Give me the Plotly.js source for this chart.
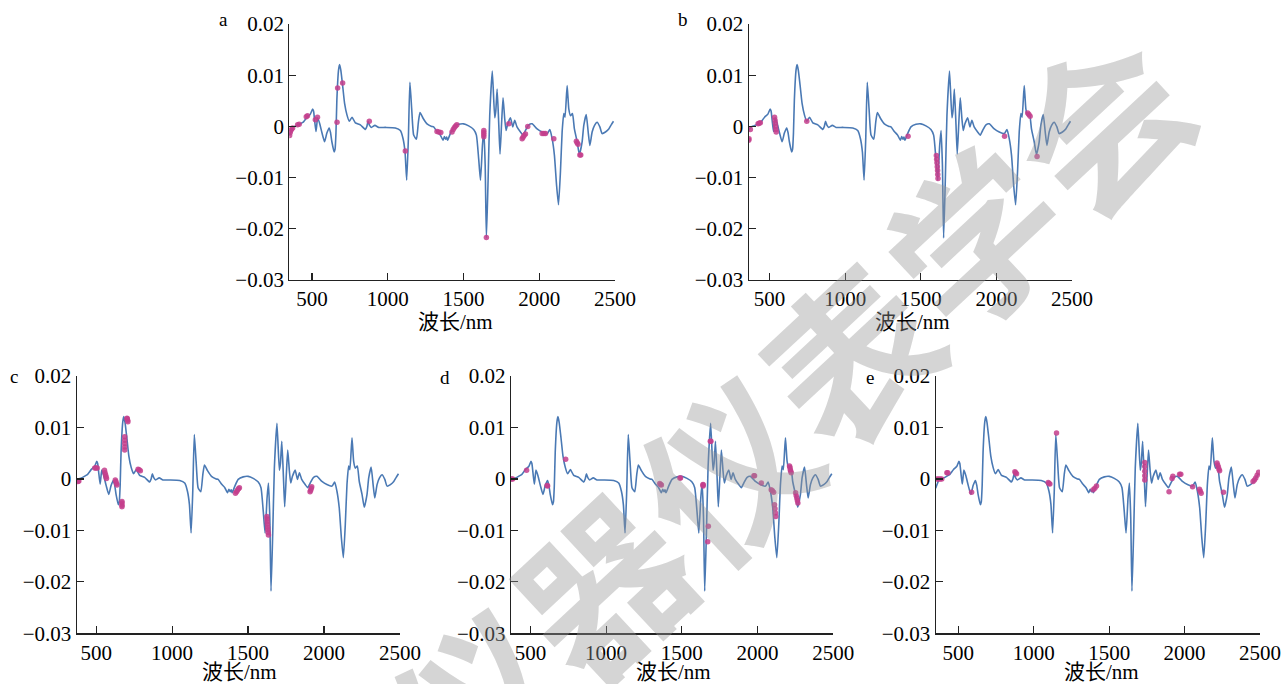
<!DOCTYPE html>
<html>
<head>
<meta charset="utf-8">
<script src="https://cdn.plot.ly/plotly-3.0.1.min.js"></script>
<style>
html,body{margin:0;padding:0;background:#fff;}
#chart{width:1285px;height:684px;}
</style>
</head>
<body>
<div id="chart"></div>
<script>
// Shared mean derivative spectrum (wavelength nm, value)
const wavelength = [350,360,368,380,395,411,428,444,467,489,504,510,517,526,531,537,550,566,583,598,613,622,631,646,652,658,664,675,682,690,702,715,731,746,764,786,819,852,862,870,880,892,915,940,985,1050,1083,1101,1114,1125,1136,1146,1158,1171,1189,1202,1213,1233,1259,1290,1303,1325,1347,1365,1374,1382,1389,1395,1413,1435,1468,1501,1534,1567,1585,1600,1612,1625,1634,1643,1651,1662,1673,1690,1706,1713,1722,1733,1741,1752,1761,1772,1781,1792,1810,1825,1838,1853,1876,1893,1909,1931,1953,1986,2019,2052,2070,2085,2100,2114,2127,2140,2151,2162,2170,2184,2195,2206,2219,2232,2250,2265,2283,2294,2310,2323,2334,2349,2365,2382,2400,2415,2437,2459,2475,2490];
const spectrum = [-0.0018,-0.0010,-0.0004,-0.0001,0.0001,0.0003,0.0006,0.0009,0.0018,0.0024,0.0034,0.0030,0.0012,-0.0010,0.0002,0.0017,0.0006,-0.0013,-0.0030,-0.0013,-0.0003,-0.0012,-0.0030,-0.0050,-0.0045,-0.0013,0.0052,0.0110,0.0121,0.0110,0.0080,0.0045,0.0022,0.0010,0.0018,0.0007,0.0003,-0.0006,0.0000,0.0010,0.0002,-0.0002,0.0002,-0.0002,-0.0002,-0.0003,-0.0008,-0.0024,-0.0050,-0.0105,-0.0024,0.0086,0.0034,-0.0017,-0.0025,0.0008,0.0027,0.0016,0.0005,0.0000,-0.0001,-0.0010,-0.0017,-0.0027,-0.0020,-0.0025,-0.0021,-0.0027,-0.0014,-0.0001,0.0004,0.0005,0.0001,-0.0006,-0.0017,-0.0063,-0.0105,-0.0037,-0.0008,-0.0075,-0.0218,-0.0108,0.0021,0.0108,0.0017,0.0030,0.0073,0.0002,-0.0054,0.0010,0.0056,0.0015,-0.0008,0.0005,0.0017,-0.0001,0.0012,-0.0001,-0.0011,-0.0017,-0.0008,0.0003,0.0005,-0.0005,-0.0011,-0.0014,-0.0006,-0.0024,-0.0056,-0.0114,-0.0153,-0.0088,-0.0011,0.0025,0.0018,0.0080,0.0034,0.0021,0.0025,-0.0005,-0.0030,-0.0055,-0.0030,0.0002,0.0023,-0.0011,-0.0037,-0.0011,0.0002,0.0008,-0.0001,-0.0014,-0.0011,-0.0005,0.0003,0.0010];

// Selected wavelengths (markers) for each panel
const markA_wl  = [352,356,360,365,372,405,415,462,470,522,536,665,669,702,878,1116,1325,1337,1350,1424,1432,1440,1448,1456,1634,1634,1634,1634,1651,1799,1887,1893,1900,1909,1924,2019,2030,2041,2096,2245,2250,2256,2268,2274];
const markA_val = [-0.0018,-0.0012,-0.0008,-0.0005,-0.0003,0.0003,0.0004,0.0019,0.0021,0.0013,0.0018,0.0008,0.0075,0.0085,0.0010,-0.0048,-0.0010,-0.0011,-0.0012,-0.0011,-0.0006,-0.0002,0.0001,0.0003,-0.0008,-0.0012,-0.0016,-0.0020,-0.0217,0.0005,-0.0024,-0.0021,-0.0018,-0.0015,0.0000,-0.0014,-0.0014,-0.0014,-0.0024,-0.0029,-0.0032,-0.0035,-0.0056,-0.0056];
const markB_wl  = [362,364,373,424,431,439,533,536,538,540,542,544,746,1416,1603,1605,1607,1609,1611,1612,1614,2054,2207,2215,2223,2269];
const markB_val = [-0.0027,-0.0024,-0.0006,0.0005,0.0006,0.0007,0.0018,0.0012,0.0006,0.0000,-0.0006,-0.0011,0.0010,-0.0019,-0.0057,-0.0064,-0.0071,-0.0079,-0.0086,-0.0094,-0.0102,-0.0019,0.0026,0.0023,0.0020,-0.0059];
const markC_wl  = [380,386,491,499,507,555,558,562,565,568,626,630,634,637,670,670,670,670,688,688,688,688,688,703,705,707,709,776,783,791,1417,1424,1430,1437,1443,1624,1625,1626,1627,1629,1630,1632,1634,1908,1912,1916,1919];
const markC_val = [-0.0005,-0.0004,0.0021,0.0021,0.0021,0.0017,0.0012,0.0008,0.0004,0.0001,-0.0002,-0.0005,-0.0009,-0.0012,-0.0044,-0.0047,-0.0051,-0.0054,0.0082,0.0075,0.0069,0.0062,0.0056,0.0118,0.0117,0.0114,0.0111,0.0019,0.0018,0.0016,-0.0028,-0.0025,-0.0022,-0.0019,-0.0017,-0.0073,-0.0078,-0.0083,-0.0088,-0.0094,-0.0099,-0.0104,-0.0109,-0.0025,-0.0022,-0.0018,-0.0015];
const markD_wl  = [376,383,475,610,614,733,1354,1360,1365,1487,1491,1640,1640,1640,1671,1675,1688,1692,1976,1980,2025,2090,2098,2106,2112,2115,2118,2120,2211,2214,2216,2219,2222,2251,2255,2259,2263,2266];
const markD_val = [0.0000,0.0000,0.0017,-0.0013,-0.0014,0.0038,-0.0009,-0.0011,-0.0012,0.0002,0.0002,-0.0011,-0.0012,-0.0014,-0.0122,-0.0092,0.0073,0.0073,0.0006,0.0006,-0.0008,-0.0021,-0.0023,-0.0026,-0.0050,-0.0058,-0.0066,-0.0073,0.0025,0.0022,0.0018,0.0015,0.0012,-0.0027,-0.0032,-0.0037,-0.0042,-0.0047];
const markE_wl  = [357,368,379,390,424,430,588,875,880,886,1096,1101,1107,1151,1394,1405,1416,1736,1736,1736,1736,1736,1897,1917,1922,1967,1975,2053,2099,2104,2110,2215,2219,2224,2228,2232,2258,2454,2463,2472,2481,2491];
const markE_val = [0.0000,0.0000,0.0000,0.0000,0.0012,0.0012,-0.0026,0.0014,0.0012,0.0010,-0.0007,-0.0009,-0.0010,0.0089,-0.0021,-0.0018,-0.0014,0.0032,0.0024,0.0015,0.0006,-0.0002,-0.0025,0.0001,0.0005,0.0009,0.0009,-0.0015,-0.0020,-0.0024,-0.0028,0.0031,0.0027,0.0023,0.0019,0.0016,-0.0026,-0.0005,-0.0002,0.0002,0.0007,0.0013];

const panelLabels = ["a","b","c","d","e"];
const xTickVals = [500,1000,1500,2000,2500];
const xTickText = ["500","1000","1500","2000","2500"];
const yTickVals = [0.02,0.01,0,-0.01,-0.02,-0.03];
const yTickText = ["0.02","0.01","0","\u22120.01","\u22120.02","\u22120.03"];
const xTitle = "波长/nm";
const watermarkChars = ["仪","器","仪","表","学","会"];

const W = 1285, H = 684;
// pixel geometry of each panel: [left, right, top, bottom], x-range start, x-title centre
const panels = [
  {l:289.3, r:615,  t:24,  b:280,   x0:350, tx:455,  ty:322, mk:[markA_wl, markA_val]},
  {l:748.7, r:1072, t:24,  b:280,   x0:362, tx:912,  ty:322, mk:[markB_wl, markB_val]},
  {l:76.7,  r:400,  t:376, b:633.3, x0:372, tx:239,  ty:672, mk:[markC_wl, markC_val]},
  {l:511,   r:833.3,t:376, b:633.3, x0:372, tx:673,  ty:672, mk:[markD_wl, markD_val]},
  {l:935.7, r:1260, t:376, b:633.3, x0:350, tx:1101, ty:672, mk:[markE_wl, markE_val]}
];

const serif = "Liberation Serif, Times New Roman, Noto Sans CJK SC, serif";
const lineColor = "rgb(74,121,180)";
const markColor = "rgba(196,62,140,0.85)";

const data = [];
const layout = {
  width: W, height: H,
  margin: {l:0, r:0, t:0, b:0},
  paper_bgcolor: "#fff", plot_bgcolor: "rgba(0,0,0,0)",
  showlegend: false,
  font: {family: serif, size: 21, color: "#000"},
  annotations: []
};

panels.forEach((p, i) => {
  const n = i === 0 ? "" : String(i + 1);
  const xa = "x" + n, ya = "y" + n;
  data.push({
    x: wavelength, y: spectrum, xaxis: xa, yaxis: ya,
    type: "scatter", mode: "lines",
    line: {color: lineColor, width: 1.6, shape: "spline", smoothing: 0.5},
    hoverinfo: "skip"
  });
  data.push({
    x: p.mk[0], y: p.mk[1], xaxis: xa, yaxis: ya,
    type: "scatter", mode: "markers",
    marker: {color: markColor, size: 5.5, line: {width: 0}},
    hoverinfo: "skip"
  });
  const common = {
    showline: true, linecolor: "#222", linewidth: 1.2,
    ticks: "inside", ticklen: 7, tickwidth: 1.2, tickcolor: "#222",
    showgrid: false, zeroline: false, mirror: false,
    tickfont: {family: serif, size: 21, color: "#000"},
    fixedrange: true
  };
  layout["xaxis" + n] = Object.assign({}, common, {
    domain: [p.l / W, p.r / W], anchor: ya,
    range: [p.x0, 2500],
    tickmode: "array", tickvals: xTickVals, ticktext: xTickText
  });
  layout["yaxis" + n] = Object.assign({}, common, {
    domain: [1 - p.b / H, 1 - p.t / H], anchor: xa,
    range: [-0.03, 0.02],
    tickmode: "array", tickvals: yTickVals, ticktext: yTickText
  });
  // x-axis title
  layout.annotations.push({
    text: xTitle, xref: "paper", yref: "paper",
    x: p.tx / W, y: 1 - p.ty / H, xanchor: "center", yanchor: "middle",
    showarrow: false, font: {family: serif, size: 21, color: "#000"}
  });
});

// panel letters
const labelPos = [[223,20],[683,20],[14,376],[445,377],[870,377]];
panelLabels.forEach((t, i) => {
  layout.annotations.push({
    text: t, xref: "paper", yref: "paper",
    x: labelPos[i][0] / W, y: 1 - labelPos[i][1] / H,
    xanchor: "center", yanchor: "middle", showarrow: false,
    font: {family: serif, size: 19, color: "#000"}
  });
});

// watermark: one rotated glyph per character along a diagonal
const wmAngle = 43, wmStep = 170;
const wmLast = [1095, 118];
watermarkChars.forEach((ch, k) => {
  const back = watermarkChars.length - 1 - k;
  const rad = wmAngle * Math.PI / 180;
  const cx = wmLast[0] - back * wmStep * Math.cos(rad);
  const cy = wmLast[1] + back * wmStep * Math.sin(rad);
  layout.annotations.push({
    text: ch, xref: "paper", yref: "paper",
    x: cx / W, y: 1 - cy / H, xanchor: "center", yanchor: "middle",
    showarrow: false, textangle: -wmAngle,
    font: {family: "Noto Sans CJK SC, sans-serif", size: 168, color: "rgba(150,150,150,0.4)", weight: 700}
  });
});

Plotly.newPlot("chart", data, layout, {displayModeBar: false, staticPlot: true});
</script>
</body>
</html>
